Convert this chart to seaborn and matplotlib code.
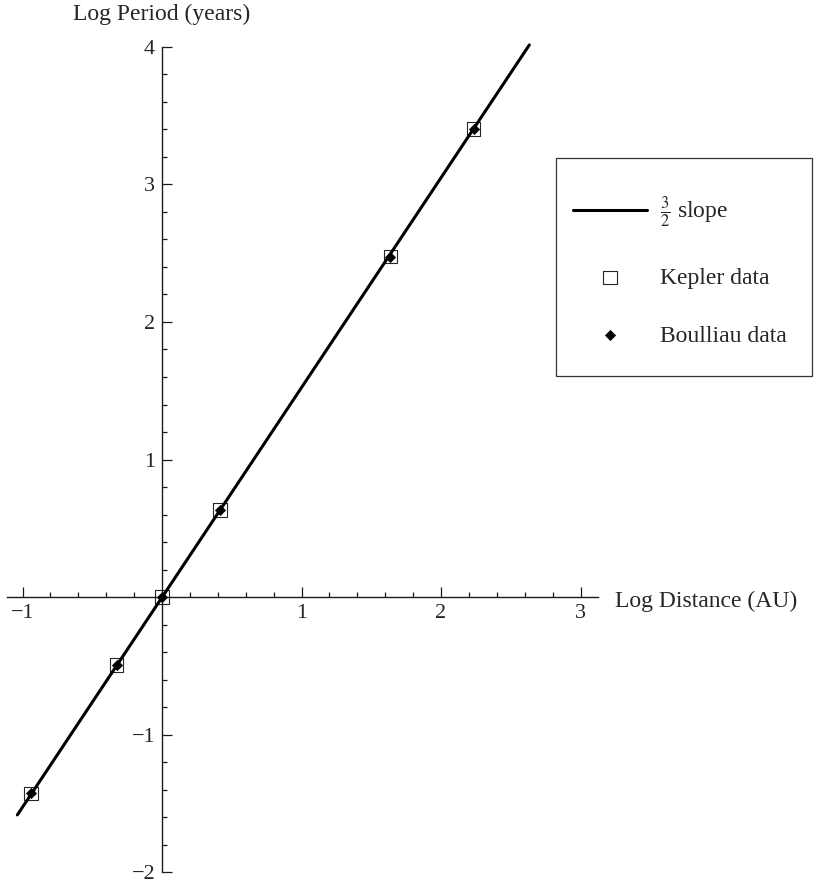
import numpy as np
import pandas as pd
import matplotlib
matplotlib.use("Agg")
import matplotlib.pyplot as plt
from matplotlib.patches import Rectangle
import seaborn as sns

# natural log of mean distance (AU) and period (years)
planets = ["Mercury", "Venus", "Earth", "Mars", "Jupiter", "Saturn"]
kepler_x = [-0.94, -0.325, 0.0, 0.416, 1.636, 2.235]
kepler_y = [-1.428, -0.494, 0.0, 0.633, 2.476, 3.404]
boulliau_x = [-0.94, -0.325, 0.0, 0.416, 1.636, 2.235]
boulliau_y = [-1.428, -0.494, 0.0, 0.633, 2.476, 3.404]
# end points of the 3/2 slope line
line_x = [-1.037, 2.633]
line_y = [-1.585, 4.015]

x_ticks = [-1, 1, 2, 3]
y_ticks = [-2, -1, 1, 2, 3, 4]

kepler = pd.DataFrame({"planet": planets, "x": kepler_x, "y": kepler_y})
boulliau = pd.DataFrame({"planet": planets, "x": boulliau_x, "y": boulliau_y})

sns.set_style("white")
plt.rcParams["font.family"] = ["Liberation Serif", "DejaVu Serif"]
plt.rcParams["mathtext.fontset"] = "stix"

W, H = 816, 882
fig = plt.figure(figsize=(W / 100, H / 100), dpi=100)
ax = fig.add_axes([0, 0, 1, 1])

sns.lineplot(x=line_x, y=line_y, color="black", linewidth=2.2,
             label=r"$\frac{3}{2}$ slope", ax=ax, zorder=3)
sns.scatterplot(data=kepler, x="x", y="y", marker="s", s=92,
                facecolor="none", edgecolor="0.15", linewidth=0.8,
                label="Kepler data", ax=ax, zorder=2)
sns.scatterplot(data=boulliau, x="x", y="y", marker="D", s=28,
                color="black", edgecolor="black", linewidth=0.4,
                label="Boulliau data", ax=ax, zorder=4)

ax.set_xlim(-1.1613, 4.688)
ax.set_ylim(-2.0727, 4.3418)

# axes crossing at the origin, Mathematica style
for side in ["top", "right"]:
    ax.spines[side].set_visible(False)
for side in ["left", "bottom"]:
    ax.spines[side].set_position(("data", 0))
    ax.spines[side].set_color("0.1")
    ax.spines[side].set_linewidth(1.0)
ax.spines["bottom"].set_bounds(-1.113, 3.125)
ax.spines["left"].set_bounds(-2, 4)

ax.set_xticks(x_ticks)
ax.set_yticks(y_ticks)
ax.set_xticks([v for v in np.round(np.arange(-0.8, 3.0, 0.2), 1)
               if v % 1 != 0], minor=True)
ax.set_yticks([v for v in np.round(np.arange(-1.8, 4.0, 0.2), 1)
               if v % 1 != 0], minor=True)
ax.tick_params(which="both", direction="in", color="0.1", width=0.9,
               labelsize=16, bottom=True, left=True)
ax.tick_params(which="major", length=7.2, pad=5)
ax.tick_params(which="minor", length=3.5)
ax.set_xlabel("")
ax.set_ylabel("")

ax.text(0, 4.196, "Log Period (years)", ha="center", va="baseline",
        fontsize=17)
ax.text(3.247, -0.07, "Log Distance (AU)", ha="left", va="baseline",
        fontsize=17)

leg = ax.legend(loc="upper left", bbox_to_anchor=(573 / W, 1 - 195 / H),
                bbox_transform=fig.transFigure, borderaxespad=0,
                borderpad=0, frameon=False, fontsize=17,
                handlelength=3.13, handletextpad=0.55, labelspacing=1.55)

# fixed legend box
fig.patches.append(Rectangle((556 / W, 1 - 376 / H), (812 - 556) / W,
                             (376 - 158) / H, transform=fig.transFigure,
                             fill=False, edgecolor="0.2", linewidth=0.9))

fig.savefig("out.png", dpi=100)
